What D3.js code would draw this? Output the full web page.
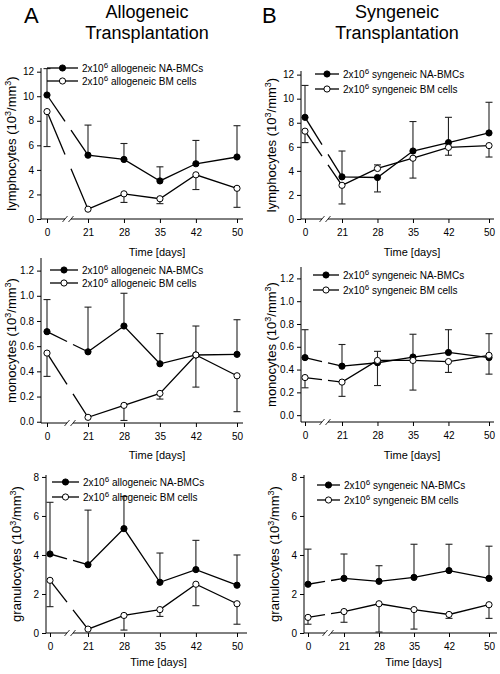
<!DOCTYPE html>
<html><head><meta charset="utf-8">
<script src="https://cdn.jsdelivr.net/npm/d3@7"></script>
<style>
body{margin:0;background:#fff;}
svg{font-family:"Liberation Sans",Arial,sans-serif;}
</style></head>
<body><svg id="c" width="500" height="674"></svg>
<script>
// ---------- data ----------
const days = [0, 21, 28, 35, 42, 50];
const xTickLabels = ["0", "21", "28", "35", "42", "50"];

// lymphocytes, allogeneic
const lymAlloNA     = [10.1, 5.2, 4.85, 3.1, 4.5, 5.05];
const lymAlloNAErr  = [12.25, 7.65, 6.15, 4.25, 6.4, 7.6];
const lymAlloBM     = [8.75, 0.8, 2.05, 1.65, 3.6, 2.5];
const lymAlloBMErr  = [5.9, 0.8, 1.35, 1.25, 2.4, 0.95];
// lymphocytes, syngeneic
const lymSynNA      = [8.45, 3.5, 3.45, 5.65, 6.35, 7.15];
const lymSynNAErr   = [11.1, 5.65, 2.25, 8.1, 8.45, 9.7];
const lymSynBM      = [7.3, 2.8, 4.2, 5.05, 5.95, 6.1];
const lymSynBMErr   = [6.35, 1.25, 4.5, 3.4, 5.3, 5.15];
// monocytes, allogeneic
const monAlloNA     = [0.715, 0.555, 0.76, 0.46, 0.53, 0.535];
const monAlloNAErr  = [0.97, 0.91, 1.02, 0.70, 0.76, 0.81];
const monAlloBM     = [0.545, 0.035, 0.13, 0.225, 0.53, 0.365];
const monAlloBMErr  = [0.36, 0.035, 0.01, 0.18, 0.275, 0.08];
// monocytes, syngeneic
const monSynNA      = [0.505, 0.43, 0.46, 0.51, 0.55, 0.505];
const monSynNAErr   = [0.75, 0.62, 0.26, 0.71, 0.75, 0.36];
const monSynBM      = [0.33, 0.29, 0.48, 0.48, 0.47, 0.525];
const monSynBMErr   = [0.24, 0.165, 0.56, 0.22, 0.375, 0.715];
// granulocytes, allogeneic
const graAlloNA     = [4.05, 3.5, 5.35, 2.6, 3.25, 2.45];
const graAlloNAErr  = [6.7, 6.3, 7.0, 4.1, 4.75, 4.0];
const graAlloBM     = [2.7, 0.2, 0.9, 1.2, 2.5, 1.5];
const graAlloBMErr  = [1.35, 0.2, 0.15, 0.85, 1.4, 0.45];
// granulocytes, syngeneic
const graSynNA      = [2.5, 2.8, 2.65, 2.85, 3.2, 2.8];
const graSynNAErr   = [4.3, 4.05, 3.45, 4.55, 4.55, 4.45];
const graSynBM      = [0.8, 1.1, 1.5, 1.2, 0.95, 1.45];
const graSynBMErr   = [0.45, 0.55, 0.05, 0.2, 0.75, 0.75];

const lymTicks = [0, 2, 4, 6, 8, 10, 12];
const monTicks = [0.0, 0.2, 0.4, 0.6, 0.8, 1.0, 1.2];
const graTicks = [0, 2, 4, 6, 8];

// ---------- drawing ----------
const svg = d3.select("#c");

function header(x, letter, title) {
  svg.append("text").attr("x", x.letter).attr("y", 23).attr("font-size", 22).text(letter);
  svg.append("text").attr("x", x.title).attr("y", 18).attr("font-size", 18).attr("text-anchor", "middle").text(title);
  svg.append("text").attr("x", x.title).attr("y", 39).attr("font-size", 18).attr("text-anchor", "middle").text("Transplantation");
}
header({letter: 24, title: 147}, "A", "Allogeneic");
header({letter: 262, title: 397}, "B", "Syngeneic");

function panel(p) {
  const g = svg.append("g");
  const x = d3.scaleLinear().domain([0, 21, 50]).range([p.x0, p.x21, p.x50]);
  const y = d3.scaleLinear().domain(p.yDomain).range([p.yAxisY, p.yTop]);

  // y axis
  const ya = d3.axisLeft(y).tickValues(p.yTicks).tickSize(4).tickPadding(3)
    .tickFormat(p.fmt ? d3.format(p.fmt) : d3.format("d"));
  const yg = g.append("g").attr("transform", `translate(${p.yx},0)`).call(ya);
  yg.select(".domain").attr("d", `M-0,${p.yTop}V${p.yAxisY}`);
  yg.selectAll("text").attr("font-size", 10).attr("font-family", "Liberation Sans, Arial, sans-serif").attr("fill", "#000");
  yg.selectAll("line,path").attr("stroke", "#000");

  // x axis (with break)
  const xa = d3.axisBottom(x).tickValues(days).tickSize(4).tickPadding(6)
    .tickFormat((d, i) => xTickLabels[i]);
  const xg = g.append("g").attr("transform", `translate(0,${p.yAxisY})`).call(xa);
  xg.select(".domain").attr("d", `M${p.yx},0H${p.xb - 3}M${p.xb + 3},0H${p.xEnd}`);
  xg.selectAll("text").attr("font-size", 10).attr("font-family", "Liberation Sans, Arial, sans-serif").attr("fill", "#000");
  xg.selectAll("line,path").attr("stroke", "#000");
  [-3, 3].forEach(o => {
    xg.append("line").attr("x1", p.xb + o - 2.5).attr("y1", 3).attr("x2", p.xb + o + 2.5).attr("y2", -3)
      .attr("stroke", "#000").attr("stroke-width", 0.8);
  });
  g.append("text").attr("x", (p.x0 + p.x50) / 2 + 15).attr("y", p.yAxisY + p.timeDy)
    .attr("text-anchor", "middle").attr("font-size", 11).text("Time [days]");

  // y title
  const yt = g.append("text").attr("font-size", 13).attr("text-anchor", "middle")
    .attr("transform", `translate(${p.yx - 25},${(p.yAxisY + p.yTop) / 2}) rotate(-90)`);
  yt.append("tspan").text(p.yLabel + " (10");
  yt.append("tspan").attr("dy", -5).attr("font-size", 9).text("3");
  yt.append("tspan").attr("dy", 5).text("/mm");
  yt.append("tspan").attr("dy", -5).attr("font-size", 9).text("3");
  yt.append("tspan").attr("dy", 5).text(")");

  // series
  p.series.forEach(s => {
    const pts = days.map((d, i) => [x(d), y(s.values[i])]);
    // line with gap at the axis break
    const a = pts[0], b = pts[1];
    const t1 = (p.xb - 3 - a[0]) / (b[0] - a[0]), t2 = (p.xb + 3 - a[0]) / (b[0] - a[0]);
    const lg = d3.line();
    g.append("path").attr("d", lg([a, [a[0] + t1 * (b[0] - a[0]), a[1] + t1 * (b[1] - a[1])]]))
      .attr("fill", "none").attr("stroke", "#000").attr("stroke-width", 1.3);
    g.append("path").attr("d", lg([[a[0] + t2 * (b[0] - a[0]), a[1] + t2 * (b[1] - a[1])], ...pts.slice(1)]))
      .attr("fill", "none").attr("stroke", "#000").attr("stroke-width", 1.3);
    // error bars
    days.forEach((d, i) => {
      const cx = x(d), e = y(s.err[i]), v = y(s.values[i]);
      if (Math.abs(e - v) < 0.5) return;
      g.append("line").attr("x1", cx).attr("x2", cx).attr("y1", v).attr("y2", e).attr("stroke", "#222").attr("stroke-width", 1.1);
      g.append("line").attr("x1", cx - 3.5).attr("x2", cx + 3.5).attr("y1", e).attr("y2", e).attr("stroke", "#222").attr("stroke-width", 1.1);
    });
  });
  p.series.forEach(s => {
    g.selectAll(null).data(days).enter().append("circle")
      .attr("cx", d => x(d)).attr("cy", (d, i) => y(s.values[i])).attr("r", 3.1)
      .attr("fill", s.filled ? "#000" : "#fff").attr("stroke", "#000").attr("stroke-width", 1);
  });

  // legend
  p.series.forEach((s, i) => {
    const ly = p.legY + i * p.legDy;
    g.append("line").attr("x1", p.legX0).attr("x2", p.legX1).attr("y1", ly).attr("y2", ly).attr("stroke", "#000").attr("stroke-width", 1.3);
    g.append("circle").attr("cx", (p.legX0 + p.legX1) / 2).attr("cy", ly).attr("r", 3.1)
      .attr("fill", s.filled ? "#000" : "#fff").attr("stroke", "#000");
    const t = g.append("text").attr("x", p.legX1 + 4).attr("y", ly + 3.5).attr("font-size", 10);
    t.append("tspan").text("2x10");
    t.append("tspan").attr("dy", -4).attr("font-size", 8).text("6");
    t.append("tspan").attr("dy", 4).text(" " + s.name);
  });
}

const leftX = {x0: 47, x21: 88, x50: 237};
const rightX = {x0: 305, x21: 342, x50: 489};

panel(Object.assign({}, leftX, {yx: 41, xEnd: 243, xb: 68, yAxisY: 219, yTop: 68, yDomain: [0, 12.3], yTicks: lymTicks, timeDy: 37,
  yLabel: "lymphocytes", legX0: 47, legX1: 78, legY: 68, legDy: 13,
  series: [{name: "allogeneic NA-BMCs", values: lymAlloNA, err: lymAlloNAErr, filled: true},
           {name: "allogeneic BM cells", values: lymAlloBM, err: lymAlloBMErr, filled: false}]}));
panel(Object.assign({}, rightX, {yx: 301, xEnd: 494, xb: 325, yAxisY: 219, yTop: 71, yDomain: [0, 12.3], yTicks: lymTicks, timeDy: 37,
  yLabel: "lymphocytes", legX0: 315, legX1: 339, legY: 74, legDy: 15,
  series: [{name: "syngeneic NA-BMCs", values: lymSynNA, err: lymSynNAErr, filled: true},
           {name: "syngeneic BM cells", values: lymSynBM, err: lymSynBMErr, filled: false}]}));
panel(Object.assign({}, leftX, {yx: 41, xEnd: 243, xb: 70, yAxisY: 423, yTop: 258, yDomain: [-0.01, 1.3], yTicks: monTicks, fmt: ".1f", timeDy: 36,
  yLabel: "monocytes", legX0: 50, legX1: 78, legY: 270, legDy: 13,
  series: [{name: "allogeneic NA-BMCs", values: monAlloNA, err: monAlloNAErr, filled: true},
           {name: "allogeneic BM cells", values: monAlloBM, err: monAlloBMErr, filled: false}]}));
panel(Object.assign({}, rightX, {yx: 301, xEnd: 494, xb: 325, yAxisY: 422, yTop: 267, yDomain: [-0.06, 1.3], yTicks: monTicks, fmt: ".1f", timeDy: 37,
  yLabel: "monocytes", legX0: 313, legX1: 339, legY: 275, legDy: 15,
  series: [{name: "syngeneic NA-BMCs", values: monSynNA, err: monSynNAErr, filled: true},
           {name: "syngeneic BM cells", values: monSynBM, err: monSynBMErr, filled: false}]}));
panel(Object.assign({}, {x0: 50, x21: 88, x50: 237}, {yx: 46, xEnd: 247, xb: 70, yAxisY: 633, yTop: 475, yDomain: [0, 8.1], yTicks: graTicks, timeDy: 33,
  yLabel: "granulocytes", legX0: 52, legX1: 79, legY: 482, legDy: 15,
  series: [{name: "allogeneic NA-BMCs", values: graAlloNA, err: graAlloNAErr, filled: true},
           {name: "allogeneic BM cells", values: graAlloBM, err: graAlloBMErr, filled: false}]}));
panel(Object.assign({}, {x0: 308, x21: 344, x50: 489}, {yx: 304, xEnd: 497, xb: 328, yAxisY: 633, yTop: 475, yDomain: [0, 8.1], yTicks: graTicks, timeDy: 33,
  yLabel: "granulocytes", legX0: 317, legX1: 340, legY: 485, legDy: 15,
  series: [{name: "syngeneic NA-BMCs", values: graSynNA, err: graSynNAErr, filled: true},
           {name: "syngeneic BM cells", values: graSynBM, err: graSynBMErr, filled: false}]}));
</script></body></html>
